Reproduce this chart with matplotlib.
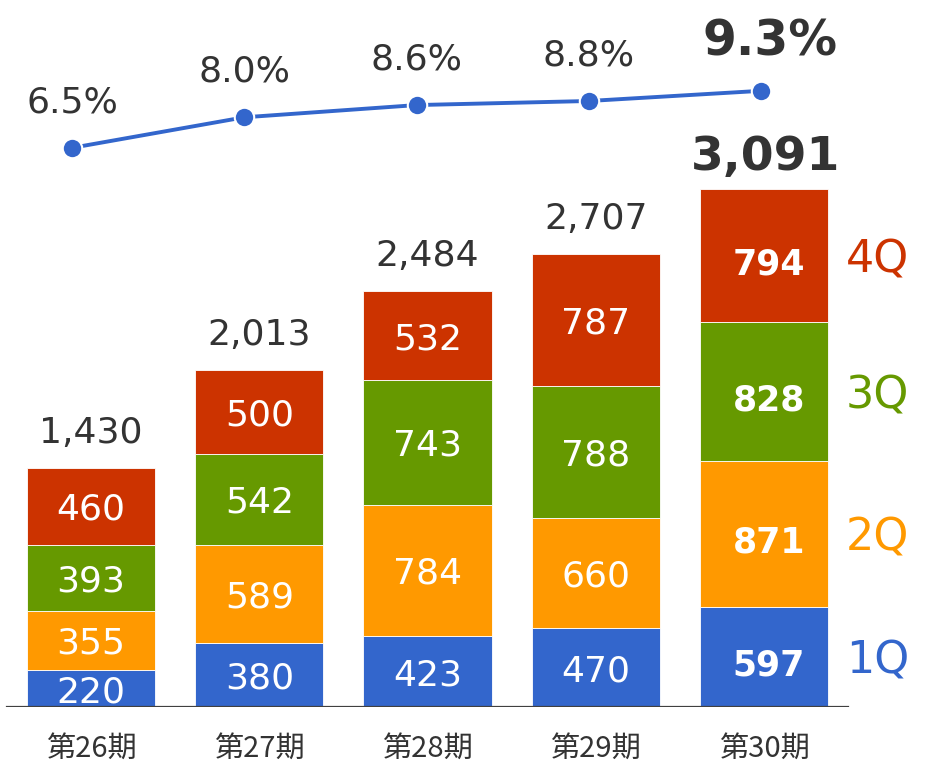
import matplotlib
matplotlib.use("Agg")
import matplotlib.pyplot as plt
import numpy as np

# 期ごとの四半期売上と利益率
periods = ["第26期", "第27期", "第28期", "第29期", "第30期"]
q1 = [220, 380, 423, 470, 597]
q2 = [355, 589, 784, 660, 871]
q3 = [393, 542, 743, 788, 828]
q4 = [460, 500, 532, 787, 794]
totals = [1430, 2013, 2484, 2707, 3091]
margin = [6.5, 8.0, 8.6, 8.8, 9.3]
quarter_names = ["1Q", "2Q", "3Q", "4Q"]

colors = ["#3366CC", "#FF9900", "#669900", "#CC3300"]
TXT = "#333333"

plt.rcParams["font.family"] = ["DejaVu Sans", "Noto Sans CJK JP"]

fig = plt.figure(figsize=(9.26, 7.64), dpi=100)
pos = [0, 57 / 764, 1, 707 / 764]
ax = fig.add_axes(pos)

x = np.arange(len(periods))
width = 0.761
bottom = np.zeros(len(periods))
last = len(periods) - 1
for qi, vals in enumerate([q1, q2, q3, q4]):
    vals = np.array(vals)
    ax.bar(x, vals, width, bottom=bottom, color=colors[qi],
           edgecolor="white", linewidth=0.6)
    for i, v in enumerate(vals):
        bold = i == last
        off = (5, -5) if bold else (0, 0)
        ax.annotate(f"{v}", (x[i], bottom[i] + v / 2), xytext=off,
                    textcoords="offset pixels", ha="center",
                    va="center_baseline", color="white",
                    fontsize=25 if bold else 26,
                    fontweight="bold" if bold else "normal")
    # 右側の四半期ラベル
    ax.text(x[last] + 0.487, bottom[last] + vals[last] / 2, quarter_names[qi],
            ha="left", va="center_baseline", color=colors[qi], fontsize=32)
    bottom += vals

for i, t in enumerate(totals):
    bold = i == last
    ax.annotate(f"{t:,}", (x[i], t), xytext=(2, 36) if bold else (0, 38),
                textcoords="offset pixels", ha="center", va="center_baseline",
                color=TXT, fontsize=34 if bold else 26,
                fontweight="bold" if bold else "normal")

ax.set_xlim(-91 / 168.25, (926 - 91) / 168.25)
ax.set_ylim(0, 707 * 5.967)
ax.axhline(0, xmin=7 / 926, xmax=848 / 926, color="#404040", linewidth=1.6)
for s in ax.spines.values():
    s.set_visible(False)
ax.set_yticks([])
ax.set_xticks(x)
ax.set_xticklabels(periods, fontsize=21, color=TXT,
                   fontfamily=["Noto Sans CJK JP", "DejaVu Sans"])
ax.tick_params(axis="x", length=0, pad=19)

# 利益率の折れ線（棒とは少しずれた横位置）
ax2 = fig.add_axes(pos)
ax2.patch.set_visible(False)
ax2.set_xlim(-72 / 172.25, (926 - 72) / 172.25)
ax2.set_ylim(-20.96, 13.76)
ax2.plot(x, margin, color="#3366CC", linewidth=2.8, marker="o",
         markersize=14, markeredgecolor="white", markeredgewidth=1.5)
for i, m in enumerate(margin):
    bold = i == last
    ax2.annotate(f"{m:.1f}%", (x[i], m), xytext=(9, 54) if bold else (0, 49),
                 textcoords="offset pixels", ha="center", va="center_baseline",
                 color=TXT, fontsize=35 if bold else 26,
                 fontweight="bold" if bold else "normal")
ax2.set_xticks([])
ax2.set_yticks([])
for s in ax2.spines.values():
    s.set_visible(False)

fig.savefig("out.png", dpi=100)
